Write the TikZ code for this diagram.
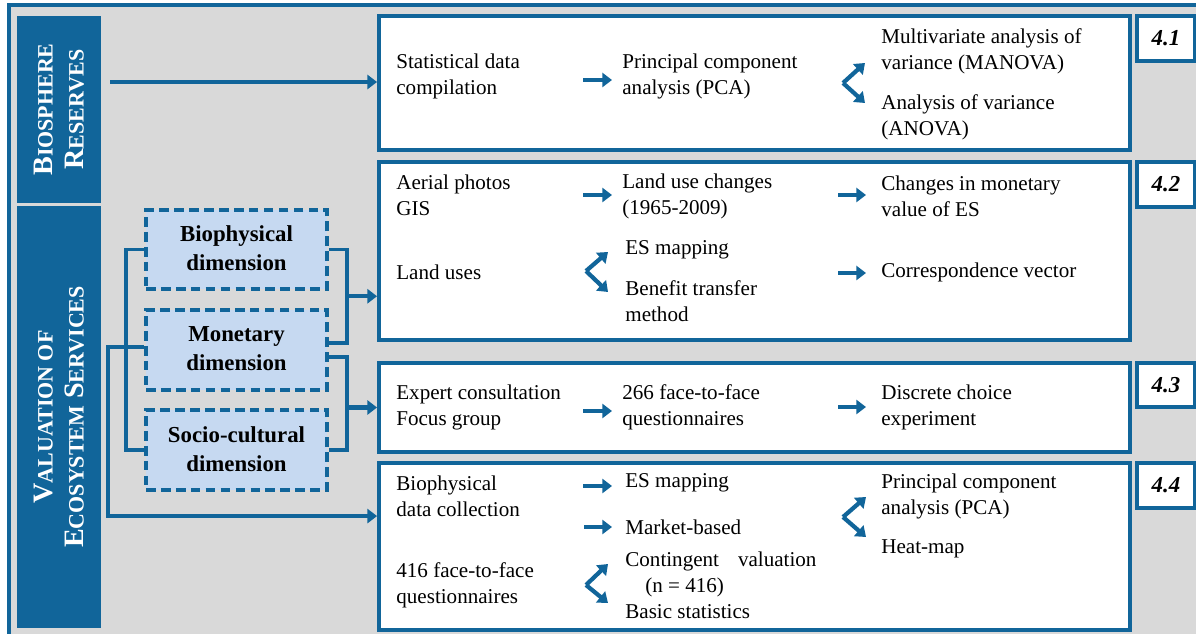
\documentclass[tikz,border=0pt]{standalone}
\usepackage{fontspec}
\setmainfont{Liberation Serif}
\usetikzlibrary{arrows.meta, positioning, calc, fit}
\definecolor{esblue}{RGB}{17,101,154}
\definecolor{dimfill}{RGB}{198,217,241}
\definecolor{bggray}{RGB}{217,217,217}
\newcommand{\capsc}[2]{{\fontsize{16}{17.6}\selectfont #1}{\fontsize{12.5}{17.6}\selectfont #2}}

\begin{document}
\begin{tikzpicture}[
    x=0.02cm, y=-0.02cm,
    frame/.style={draw=esblue, line width=1.8pt, fill=bggray, inner sep=0pt},
    bar/.style={fill=esblue, inner sep=0pt},
    bartxt/.style={white, rotate=90, align=center, font=\bfseries\fontsize{16}{17.6}\selectfont},
    panel/.style={draw=esblue, line width=2.2pt, fill=white, inner sep=0pt},
    tagtxt/.style={inner sep=0pt, font=\bfseries\itshape\fontsize{13}{15}\selectfont},
    dim/.style={draw=esblue, line width=2.2pt, dash pattern=on 5.5pt off 3pt, fill=dimfill, inner sep=0pt},
    dimtxt/.style={inner sep=0pt, align=center, font=\bfseries\fontsize{13}{16.5}\selectfont},
    txt/.style={anchor=west, align=left, inner sep=0pt, font=\fontsize{12}{14.8}\selectfont},
    link/.style={draw=esblue, line width=2pt},
    arr/.style={draw=esblue, line width=2.4pt, -{Triangle[length=5.5pt, width=8pt]}},
]
    \useasboundingbox (0,0) rectangle (1196,634);
    \clip (0,0) rectangle (1196,634);

    % Frame and side bars
    \node[frame, fit={(9,5) (1210,645)}] (frame) {};
    \node[bar, fit={(17,16) (101,203)}] (br) {};
    \node[bartxt] (brtxt) at (br.center) {\capsc{B}{IOSPHERE}\\\capsc{R}{ESERVES}};
    \node[bar, fit={(17,206) (101,628)}] (vs) {};
    \node[bartxt] (vstxt) at (vs.center) {\capsc{V}{ALUATION OF}\\\capsc{E}{COSYSTEM} \capsc{S}{ERVICES}};

    % Panels
    \node[panel, fit={(379,16) (1130,150)}] (p41) {};
    \node[panel, fit={(379,162) (1130,340)}] (p42) {};
    \node[panel, fit={(379,363) (1130,452)}] (p43) {};
    \node[panel, fit={(379,463) (1130,630)}] (p44) {};
    \node[panel, fit={(1137,16) (1195,61)}] (t41) {};
    \node[panel, fit={(1137,162) (1195,207)}] (t42) {};
    \node[panel, fit={(1137,363) (1195,407)}] (t43) {};
    \node[panel, fit={(1137,463) (1195,508)}] (t44) {};
    \node[tagtxt] (n41) at (t41.center) {4.1};
    \node[tagtxt] (n42) at (t42.center) {4.2};
    \node[tagtxt] (n43) at (t43.center) {4.3};
    \node[tagtxt] (n44) at (t44.center) {4.4};

    % Dimensions
    \node[dim, fit={(146,210) (327,289)}] (bio) {};
    \node[dim, fit={(146,310) (327,390)}] (mon) {};
    \node[dim, fit={(146,410) (327,490)}] (soc) {};
    \node[dimtxt] (biotxt) at ($(bio.center)+(0,-1)$) {Biophysical\\dimension};
    \node[dimtxt] (montxt) at ($(mon.center)+(0,-1)$) {Monetary\\dimension};
    \node[dimtxt] (soctxt) at ($(soc.center)+(0,-1)$) {Socio-cultural\\dimension};

    % Links from the side bars and dimensions
    \coordinate (brout) at (110,82);
    \draw[arr] (brout) -- (brout -| p41.west);
    \draw[link] (bio.west) -- ++(-18,0) |- (soc.west);
    \draw[link] (bio.east) -- ++(18,0) |- ($(mon.east)+(0,-7)$) coordinate (k1);
    \draw[link] ($(mon.east)+(0,7)$) coordinate (k2) -- ++(18,0) |- (soc.east);
    \coordinate (j1) at ($(bio.east)!.5!(k1)+(18,0)$);
    \coordinate (j2) at ($(k2)!.5!(soc.east)+(18,4)$);
    \draw[arr] (j1) -- (j1 -| p42.west);
    \draw[arr] (j2) -- (j2 -| p43.west);
    \coordinate (e44) at ($(p44.north west)+(0,55)$);
    \draw[arr] ($(mon.west)+(0,-3)$) -- ++(-36,0) |- (e44);

    % 4.1
    \node[txt] (sdc) at (396,76) {Statistical data\\compilation};
    \node[txt] (pca1) at (622,76) {Principal component\\analysis (PCA)};
    \node[txt] (mnv) at (881,51) {Multivariate analysis of\\variance (MANOVA)};
    \node[txt] (anv) at (881,117) {Analysis of variance\\(ANOVA)};
    \draw[arr] ($(pca1.west)+(-39,4)$) -- ++(29,0);
    \coordinate (f41) at ($(mnv.west)!.5!(anv.west)+(-38,-1)$);
    \draw[arr] (f41) -- ++(22,-20);
    \draw[arr] (f41) -- ++(22,20);

    % 4.2
    \node[txt] (aer) at (396,195) {Aerial photos\\GIS};
    \node[txt] (luc) at (622,196) {Land use changes\\(1965-2009)};
    \node[txt] (cmv) at (881,196) {Changes in monetary\\value of ES};
    \node[txt] (lu) at (396,272) {Land uses};
    \node[txt] (esm1) at (625,250) {ES mapping};
    \node[txt] (btm) at (625,301) {Benefit transfer\\method};
    \node[txt] (cv) at (881,272) {Correspondence vector};
    \draw[arr] ($(luc.west)+(-39,-1)$) -- ++(29,0);
    \draw[arr] ($(cmv.west)+(-43,-1)$) -- ++(28,0);
    \draw[arr] ($(cv.west)+(-43,1)$) -- ++(28,0);
    \coordinate (f42) at ($(lu.west)+(190,-1)$);
    \draw[arr] (f42) -- ++(22,-19);
    \draw[arr] (f42) -- ++(22,21);

    % 4.3
    \node[txt] (exp) at (396,407) {Expert consultation\\Focus group};
    \node[txt] (q266) at (622,407) {266 face-to-face\\questionnaires};
    \node[txt] (dce) at (881,407) {Discrete choice\\experiment};
    \draw[arr] ($(q266.west)+(-39,4)$) -- ++(29,0);
    \draw[arr] ($(dce.west)+(-43,0)$) -- ++(28,0);

    % 4.4
    \node[txt] (bdc) at (396,496) {Biophysical\\data collection};
    \node[txt] (esm2) at (625,483) {ES mapping};
    \node[txt] (mkt) at (625,527) {Market-based};
    \node[txt] (q416) at (396,585) {416 face-to-face\\questionnaires};
    \node[txt] (cval) at (625,574) {Contingent\hspace{0.65em} valuation\\\hspace*{0.4cm}(n = 416)};
    \node[txt] (bst) at (625,612) {Basic statistics};
    \node[txt] (pca2) at (881,496) {Principal component\\analysis (PCA)};
    \node[txt] (hm) at (881,549) {Heat-map};
    \draw[arr] ($(esm2.west)+(-42,3)$) -- ++(29,0);
    \draw[arr] ($(mkt.west)+(-41,0)$) -- ++(28,0);
    \coordinate (f44a) at ($(q416.west)+(190,0)$);
    \draw[arr] (f44a) -- ++(22,-21);
    \draw[arr] (f44a) -- ++(22,18);
    \coordinate (f44b) at ($(pca2.west)+(-38,21)$);
    \draw[arr] (f44b) -- ++(23,-20);
    \draw[arr] (f44b) -- ++(23,20);
\end{tikzpicture}
\end{document}
